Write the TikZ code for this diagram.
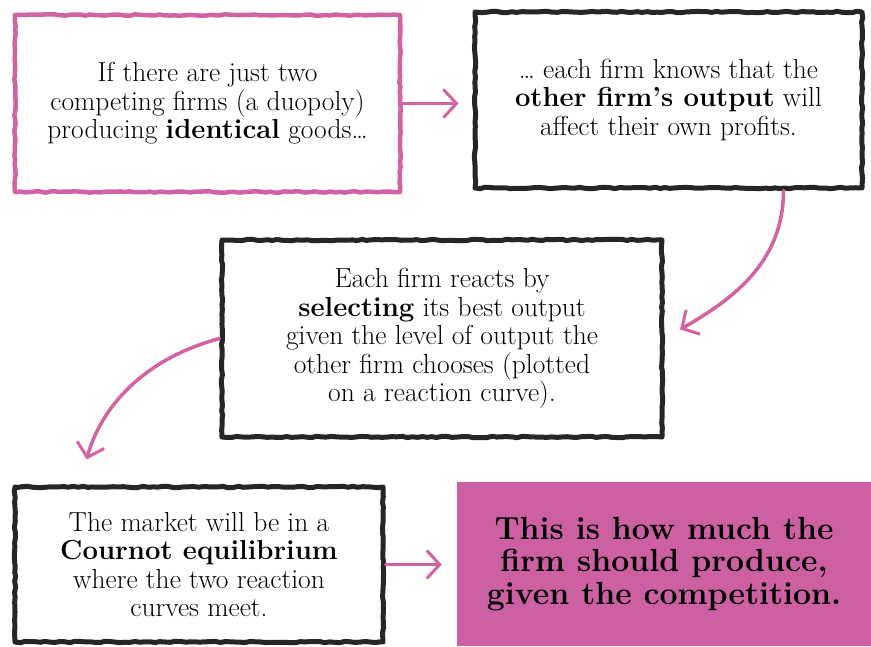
\documentclass[tikz,border=0pt]{standalone}
\usepackage{tikz}
\usetikzlibrary{arrows.meta}
\usetikzlibrary{decorations.pathmorphing}
\definecolor{flowpink}{RGB}{210,98,162}
\definecolor{boxpink}{RGB}{205,96,162}
\newcommand{\boxtextsize}{\fontsize{27.5}{28.5}\selectfont}
\newcommand{\punchtextsize}{\fontsize{32}{32.5}\selectfont}
\tikzstyle{sketch}=[decorate, decoration={random steps, segment length=5pt, amplitude=0.7pt}]
\tikzstyle{stepbox}=[draw=black!85, line width=5pt, line join=round, sketch, align=center, font=\boxtextsize, inner sep=0]
\tikzstyle{pinkbox}=[stepbox, draw=flowpink, line width=4.5pt]
\tikzstyle{punchbox}=[fill=boxpink, align=center, font=\punchtextsize\bfseries, inner sep=0]
\tikzstyle{flow}=[draw=flowpink, line width=3.5pt, line cap=round,
                  -{Straight Barb[length=13pt, width=28pt, line width=3pt]}]

\begin{document}
\begin{tikzpicture}[x=1pt, y=1pt]
        \useasboundingbox[fill=white] (0, 0) rectangle (871, 646);
        % The four steps and the outcome.
        \node[pinkbox, minimum width=385pt, minimum height=177pt]  (duopoly) at (207.5, 542.5)
            {If there are just two\\ competing firms (a duopoly)\\ producing \textbf{identical} goods\dots};
        \node[stepbox, minimum width=387pt, minimum height=176pt]  (knows) at (668.5, 546)
            {\dots\ each firm knows that the\\ \textbf{other firm’s output} will\\ affect their own profits.};
        \node[stepbox, minimum width=440pt, minimum height=197pt]  (react) at (442, 307.5)
            {Each firm reacts by\\ \textbf{selecting} its best output\\ given the level of output the\\ other firm chooses (plotted\\ on a reaction curve).};
        \node[stepbox, minimum width=368pt, minimum height=155pt]  (cournot) at (199, 81.5)
            {The market will be in a\\ \textbf{Cournot equilibrium}\\ where the two reaction\\ curves meet.};
        \node[punchbox, minimum width=414pt, minimum height=164pt] (produce) at (664, 82)
            {This is how much the\\ firm should produce,\\ given the competition.};
        \draw[flow, shorten >=14pt] (duopoly.east) -- (duopoly.east -| knows.west);
        \draw[flow, shorten >=18pt] ([xshift=115pt]knows.south) to[out=-90, in=30] (react.east);
        \draw[flow, shorten >=26pt] (react.west) to[out=195, in=75] ([xshift=-119pt]cournot.north);
        \draw[flow, shorten >=15pt] (cournot.east) -- (cournot.east -| produce.west);
\end{tikzpicture}
\end{document}
